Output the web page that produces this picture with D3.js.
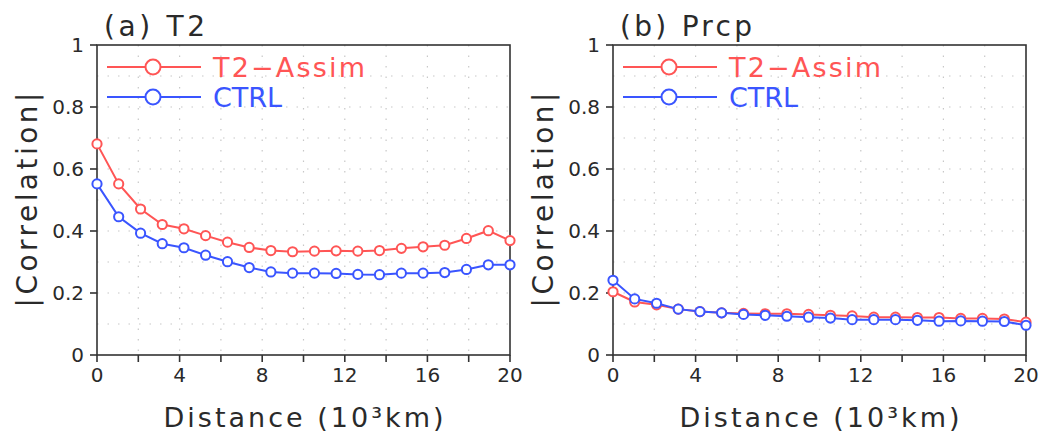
<!DOCTYPE html>
<html>
<head>
<meta charset="utf-8">
<script src="https://cdn.jsdelivr.net/npm/d3@7"></script>
<style>
  body { margin: 0; background: #fff; }
  svg { font-family: "DejaVu Sans", sans-serif; }
</style>
</head>
<body>
<div id="chart"></div>
<script>
// distance in 10^3 km (20 points)
var distance = [0, 1.05, 2.11, 3.16, 4.21, 5.26, 6.32, 7.37, 8.42, 9.47,
                10.53, 11.58, 12.63, 13.68, 14.74, 15.79, 16.84, 17.89, 18.95, 20];

// panel (a) T2
var t2Assim = [0.681, 0.552, 0.471, 0.421, 0.407, 0.385, 0.364, 0.347, 0.337, 0.333,
               0.335, 0.336, 0.335, 0.337, 0.344, 0.349, 0.354, 0.376, 0.401, 0.369];
var t2Ctrl = [0.552, 0.446, 0.393, 0.359, 0.346, 0.322, 0.301, 0.282, 0.268, 0.264,
              0.264, 0.263, 0.260, 0.259, 0.264, 0.264, 0.266, 0.276, 0.291, 0.291];

// panel (b) Prcp
var prcpAssim = [0.204, 0.171, 0.162, 0.148, 0.140, 0.136, 0.134, 0.133, 0.133, 0.131,
                 0.128, 0.126, 0.122, 0.122, 0.121, 0.121, 0.118, 0.118, 0.116, 0.106];
var prcpCtrl = [0.241, 0.181, 0.167, 0.148, 0.140, 0.136, 0.131, 0.128, 0.125, 0.122,
                0.119, 0.114, 0.114, 0.114, 0.112, 0.109, 0.110, 0.109, 0.108, 0.096];

var panelTitles = ["(a)  T2", "(b)  Prcp"];
var seriesNames = ["T2\u2212Assim", "CTRL"];
var xTicks = [0, 4, 8, 12, 16, 20];
var xMinorTicks = [2, 6, 10, 14, 18];
var yTicks = [0, 0.2, 0.4, 0.6, 0.8, 1];
var yTickLabels = ["0", "0.2", "0.4", "0.6", "0.8", "1"];
var xGrid = [2, 4, 6, 8, 10, 12, 14, 16, 18];
var yGrid = [0.1, 0.2, 0.3, 0.4, 0.5, 0.6, 0.7, 0.8, 0.9];

var colors = ["#ff5555", "#3a55ff"];
var textColor = "#2a2a2a";

var svg = d3.select("#chart").append("svg")
    .attr("width", 1040)
    .attr("height", 436);

var panels = [
    { left: 97, title: panelTitles[0], titleLen: 101, series: [t2Assim, t2Ctrl] },
    { left: 613, title: panelTitles[1], titleLen: 132, series: [prcpAssim, prcpCtrl] }
];
var legendLen = [152, 69];

var plotTop = 45, height = 310, width = 413;
var axisColor = "#333";

panels.forEach(function (p) {
    var g = svg.append("g").attr("transform", "translate(" + p.left + "," + plotTop + ")");

    var x = d3.scaleLinear().domain([0, 20]).range([0, width]);
    var y = d3.scaleLinear().domain([0, 1]).range([height, 0]);

    // dotted grid
    g.selectAll(".gx").data(xGrid).enter().append("line")
        .attr("x1", function (d) { return x(d); })
        .attr("x2", function (d) { return x(d); })
        .attr("y1", 0).attr("y2", height)
        .attr("stroke", "#c8c8c8").attr("stroke-width", 1.2)
        .attr("stroke-dasharray", "1.5,9");
    g.selectAll(".gy").data(yGrid).enter().append("line")
        .attr("y1", function (d) { return y(d); })
        .attr("y2", function (d) { return y(d); })
        .attr("x1", 0).attr("x2", width)
        .attr("stroke", "#c8c8c8").attr("stroke-width", 1.2)
        .attr("stroke-dasharray", "1.5,9");

    // frame
    g.append("rect")
        .attr("width", width).attr("height", height)
        .attr("fill", "none").attr("stroke", axisColor).attr("stroke-width", 1.6);

    // x axis ticks
    var xAxis = g.append("g").attr("transform", "translate(0," + height + ")");
    xAxis.selectAll("line").data(xTicks.concat(xMinorTicks)).enter().append("line")
        .attr("x1", function (d) { return x(d); })
        .attr("x2", function (d) { return x(d); })
        .attr("y1", 0).attr("y2", 7)
        .attr("stroke", axisColor).attr("stroke-width", 1.6);
    xAxis.selectAll("text").data(xTicks).enter().append("text")
        .attr("x", function (d) { return x(d); })
        .attr("y", 27)
        .attr("text-anchor", "middle")
        .attr("font-size", 20)
        .attr("fill", textColor)
        .text(function (d) { return d; });

    // y axis ticks
    var yAxis = g.append("g");
    yAxis.selectAll("line").data(yTicks).enter().append("line")
        .attr("y1", function (d) { return y(d); })
        .attr("y2", function (d) { return y(d); })
        .attr("x1", -7).attr("x2", 0)
        .attr("stroke", axisColor).attr("stroke-width", 1.6);
    yAxis.selectAll("text").data(yTicks).enter().append("text")
        .attr("x", -13)
        .attr("y", function (d) { return y(d) + 7; })
        .attr("text-anchor", "end")
        .attr("font-size", 20)
        .attr("fill", textColor)
        .text(function (d, i) { return yTickLabels[i]; });

    // axis titles
    g.append("text")
        .attr("x", width / 2).attr("y", 382)
        .attr("text-anchor", "middle")
        .attr("font-size", 27)
        .attr("fill", textColor)
        .attr("textLength", 280)
        .text("Distance (10\u00b3km)");
    g.append("text")
        .attr("transform", "translate(-60," + (height / 2) + ") rotate(-90)")
        .attr("text-anchor", "middle")
        .attr("font-size", 28)
        .attr("fill", textColor)
        .attr("textLength", 215)
        .text("|Correlation|");

    // panel title
    g.append("text")
        .attr("x", 7).attr("y", -9)
        .attr("font-size", 28)
        .attr("fill", textColor)
        .attr("textLength", p.titleLen)
        .text(p.title);

    // lines and markers
    var line = d3.line()
        .x(function (d, i) { return x(distance[i]); })
        .y(function (d) { return y(d); });

    p.series.forEach(function (s, k) {
        g.append("path")
            .datum(s)
            .attr("fill", "none")
            .attr("stroke", colors[k])
            .attr("stroke-width", 2)
            .attr("d", line);
        g.selectAll(".pt" + k).data(s).enter().append("circle")
            .attr("cx", function (d, i) { return x(distance[i]); })
            .attr("cy", function (d) { return y(d); })
            .attr("r", 4.6)
            .attr("fill", "#fff")
            .attr("stroke", colors[k])
            .attr("stroke-width", 2);
    });

    // legend
    seriesNames.forEach(function (name, k) {
        var ly = 22 + k * 30;
        g.append("line")
            .attr("x1", 10).attr("x2", 104)
            .attr("y1", ly).attr("y2", ly)
            .attr("stroke", colors[k]).attr("stroke-width", 2);
        g.append("circle")
            .attr("cx", 56).attr("cy", ly).attr("r", 7.5)
            .attr("fill", "#fff")
            .attr("stroke", colors[k]).attr("stroke-width", 2);
        g.append("text")
            .attr("x", 116).attr("y", ly + 10)
            .attr("font-size", 27)
            .attr("fill", colors[k])
            .attr("textLength", legendLen[k])
            .text(name);
    });
});
</script>
</body>
</html>
